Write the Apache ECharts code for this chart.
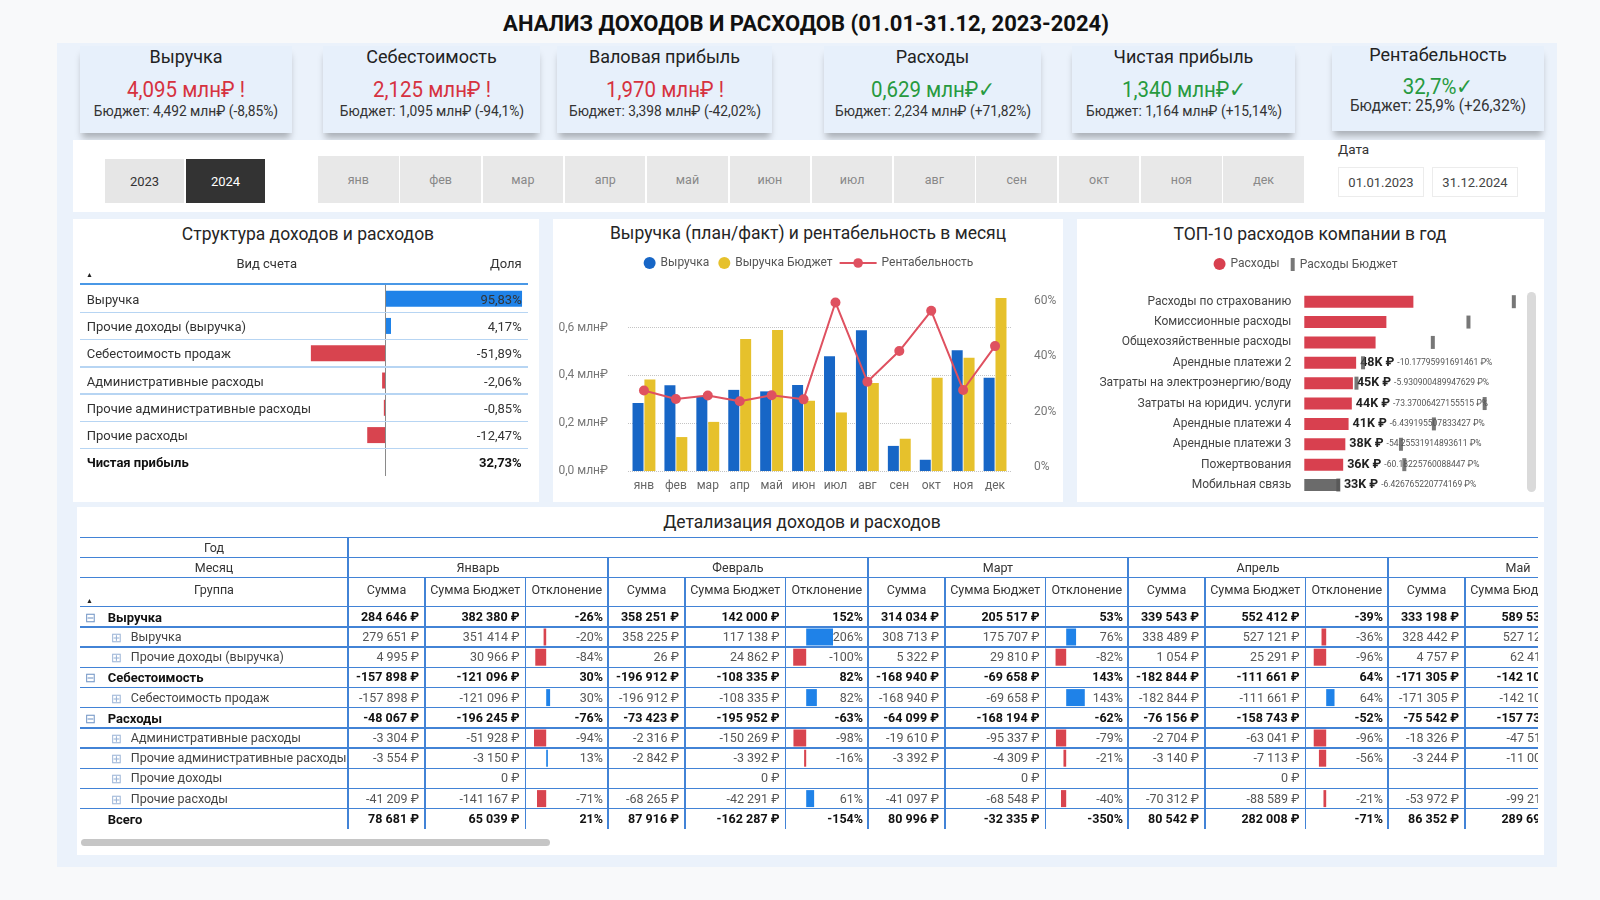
<!DOCTYPE html>
<html>
<head>
<meta charset="utf-8">
<script src="https://cdn.jsdelivr.net/npm/echarts@6/dist/echarts.min.js"></script>
<style>
  html, body { margin: 0; padding: 0; width: 1600px; height: 900px; overflow: hidden; background: #f8f9fa;
    font-family: Roboto, "Noto Sans", sans-serif; color: #333; }
  #bg, #fg, #chart { position: absolute; left: 0; top: 0; width: 1600px; height: 900px; }
  #bg { z-index: 1; }
  #chart { z-index: 2; }
  #fg { z-index: 3; pointer-events: none; }
  .box { position: absolute; box-sizing: border-box; }
  .t { position: absolute; white-space: nowrap; line-height: 1; }
</style>
</head>
<body>
<div id="bg"></div>
<div id="chart"></div>
<div id="fg"></div>
<script>
// ---- data ----
var kpiTitles = ["Выручка", "Себестоимость", "Валовая прибыль", "Расходы", "Чистая прибыль", "Рентабельность"];
var kpiValues = ["4,095 млн₽ !", "2,125 млн₽ !", "1,970 млн₽ !", "0,629 млн₽✓", "1,340 млн₽✓", "32,7%✓"];
var kpiBudgets = ["Бюджет: 4,492 млн₽ (-8,85%)", "Бюджет: 1,095 млн₽ (-94,1%)", "Бюджет: 3,398 млн₽ (-42,02%)",
  "Бюджет: 2,234 млн₽ (+71,82%)", "Бюджет: 1,164 млн₽ (+15,14%)", "Бюджет: 25,9% (+26,32%)"];
var kpiGood = [false, false, false, true, true, true];

var years = ["2023", "2024"];
var months = ["янв", "фев", "мар", "апр", "май", "июн", "июл", "авг", "сен", "окт", "ноя", "дек"];
var dates = ["01.01.2023", "31.12.2024"];

var structNames = ["Выручка", "Прочие доходы (выручка)", "Себестоимость продаж", "Административные расходы",
  "Прочие административные расходы", "Прочие расходы", "Чистая прибыль"];
var structShare = [95.83, 4.17, -51.89, -2.06, -0.85, -12.47, 32.73];

var revenue = [0.2846, 0.3583, 0.3140, 0.3395, 0.3332, 0.360, 0.480, 0.589, 0.105, 0.047, 0.505, 0.390];
var revenueBudget = [0.3824, 0.1420, 0.2055, 0.5524, 0.5895, 0.294, 0.245, 0.368, 0.135, 0.390, 0.474, 0.724];
var margin = [27.6, 24.5, 25.8, 23.7, 25.9, 24.4, 59.5, 30.8, 41.9, 56.5, 27.8, 43.7];

var topNames = ["Расходы по страхованию", "Комиссионные расходы", "Общехозяйственные расходы", "Арендные платежи 2",
  "Затраты на электроэнергию/воду", "Затраты на юридич. услуги", "Арендные платежи 4", "Арендные платежи 3",
  "Пожертвования", "Мобильная связь"];
var topActual = [101, 76, 66, 48, 45, 44, 41, 38, 36, 33];          // тыс. ₽
var topBudget = [194, 152, 119, 54.4, 48.3, 167, 120, 89.5, 92.6, 31.5];
var topPct = ["", "", "", "-10.17795991691461", "-5.930900489947629", "-73.37006427155515", "-6.439195507833427",
  "-54.25531914893611", "-60.18225760088447", "-6.426765220774169"];

var rowNames = ["Выручка", "Выручка", "Прочие доходы (выручка)", "Себестоимость", "Себестоимость продаж", "Расходы",
  "Административные расходы", "Прочие административные расходы", "Прочие доходы", "Прочие расходы", "Всего"];
var rowKinds = ["g", "s", "s", "g", "s", "g", "s", "s", "s", "s", "t"];
var monthNames = ["Январь", "Февраль", "Март", "Апрель", "Май"];
var sumJan = [284646, 279651, 4995, -157898, -157898, -48067, -3304, -3554, null, -41209, 78681];
var budJan = [382380, 351414, 30966, -121096, -121096, -196245, -51928, -3150, 0, -141167, 65039];
var devJan = [-26, -20, -84, 30, 30, -76, -94, 13, null, -71, 21];
var sumFeb = [358251, 358225, 26, -196912, -196912, -73423, -2316, -2842, null, -68265, 87916];
var budFeb = [142000, 117138, 24862, -108335, -108335, -195952, -150269, -3392, 0, -42291, -162287];
var devFeb = [152, 206, -100, 82, 82, -63, -98, -16, null, 61, -154];
var sumMar = [314034, 308713, 5322, -168940, -168940, -64099, -19610, -3392, null, -41097, 80996];
var budMar = [205517, 175707, 29810, -69658, -69658, -168194, -95337, -4309, 0, -68548, -32335];
var devMar = [53, 76, -82, 143, 143, -62, -79, -21, null, -40, -350];
var sumApr = [339543, 338489, 1054, -182844, -182844, -76156, -2704, -3140, null, -70312, 80542];
var budApr = [552412, 527121, 25291, -111661, -111661, -158743, -63041, -7113, 0, -88589, 282008];
var devApr = [-39, -36, -96, 64, 64, -52, -96, -56, null, -21, -71];
var sumMay = [333198, 328442, 4757, -171305, -171305, -75542, -18326, -3244, null, -53972, 86352];
var budMay = [589537, 527125, 62412, -142108, -142108, -157736, -47512, -11007, 0, -99217, 289693];
var devMay = [-43, -38, -92, 21, 21, -52, -61, -71, null, -46, -70];

var BLUE = "#1f82e8", RED = "#d8444f";

// ---- helpers ----
var bg = document.getElementById("bg"), fg = document.getElementById("fg");
function box(p, x, y, w, h, css) {
  var d = document.createElement("div");
  d.className = "box";
  d.style.left = x + "px"; d.style.top = y + "px"; d.style.width = w + "px"; d.style.height = h + "px";
  Object.assign(d.style, css || {});
  p.appendChild(d);
  return d;
}
function txt(p, x, y, s, align, css, sx) {
  var d = document.createElement("div");
  d.className = "t";
  d.textContent = s;
  var tx = align === "c" ? "-50%" : (align === "r" ? "-100%" : "0");
  d.style.left = x + "px"; d.style.top = y + "px";
  d.style.transformOrigin = align === "c" ? "center" : (align === "r" ? "right" : "left");
  d.style.transform = "translate(" + tx + ",-50%)" + (sx ? " scaleX(" + sx + ")" : "");
  Object.assign(d.style, css || {});
  p.appendChild(d);
  return d;
}
function money(v) {
  if (v === null) return "";
  var s = String(Math.abs(v)).replace(/\B(?=(\d{3})+(?!\d))/g, " ");
  return (v < 0 ? "-" : "") + s + " ₽";
}
var font = 'Roboto, "Noto Sans", sans-serif';
var mctx = document.createElement("canvas").getContext("2d");
function tw(s, size) { mctx.font = size + "px " + font; return mctx.measureText(s).width; }

// ---- static layout ----
txt(bg, 806, 24, "АНАЛИЗ ДОХОДОВ И РАСХОДОВ (01.01-31.12, 2023-2024)", "c",
  { fontSize: "22px", fontWeight: "bold", color: "#111" });
box(bg, 57, 43, 1500, 824, { background: "#ebf2fb" });

var cardX = [[80, 292], [323, 540], [557, 772], [824, 1041], [1072, 1295], [1332, 1544]];
cardX.forEach(function (c, i) {
  box(bg, c[0], 46, c[1] - c[0], i === 5 ? 85 : 87, { background: "#e7f0fb", boxShadow: "0 7px 7px -2px rgba(0,0,0,0.28)" });
  var cx = (c[0] + c[1]) / 2, last = i === 5;
  txt(bg, cx, last ? 55 : 57, kpiTitles[i], "c", { fontSize: "18px", color: "#222" });
  txt(bg, cx, last ? 87 : 90, kpiValues[i], "c", { fontSize: "22px", color: kpiGood[i] ? "#279a3f" : "#d6323f" }, 0.93);
  txt(bg, cx, last ? 106 : 112, kpiBudgets[i], "c", { fontSize: last ? "16px" : "14.5px", color: "#333" }, 0.95);
});

// slicers strip
box(bg, 73, 140, 1472, 72, { background: "#ffffff" });
years.forEach(function (y, i) {
  var x = i === 0 ? 105 : 186;
  box(bg, x, 159, 79, 44, { background: i === 1 ? "#333333" : "#e6e6e6" });
  txt(bg, x + 39.5, 181, y, "c", { fontSize: "13px", color: i === 1 ? "#fff" : "#333" });
});
months.forEach(function (m, i) {
  var x = 318 + i * 82.3;
  box(bg, x, 156, 80.6, 47, { background: "#e8e8e8" });
  txt(bg, x + 40.3, 180, m, "c", { fontSize: "12.5px", color: "#888" });
});
txt(bg, 1338, 150, "Дата", "l", { fontSize: "13.5px", color: "#333" });
dates.forEach(function (d, i) {
  var x = i === 0 ? 1338 : 1432;
  box(bg, x, 167, 86, 30, { background: "#fff", border: "1px solid #ececec" });
  txt(bg, x + 43, 182, d, "c", { fontSize: "13px", color: "#444" });
});

// panels
box(bg, 73, 219, 466, 283, { background: "#fff" });
box(bg, 553, 219, 510, 283, { background: "#fff" });
box(bg, 1077, 219, 467, 283, { background: "#fff" });
box(bg, 77, 507, 1467, 348, { background: "#fff" });

var titleCss = { fontSize: "17.5px", color: "#252525" };
txt(bg, 308, 235, "Структура доходов и расходов", "c", titleCss);
txt(bg, 808, 234, "Выручка (план/факт) и рентабельность в месяц", "c", titleCss);
txt(bg, 1310, 235, "ТОП-10 расходов компании в год", "c", titleCss);
txt(bg, 802, 523, "Детализация доходов и расходов", "c", titleCss);

// structure table text
var sTop = 285, sRow = 27.29;
txt(fg, 266.7, 263.3, "Вид счета", "c", { fontSize: "13px", color: "#333" });
txt(fg, 521.7, 263.3, "Доля", "r", { fontSize: "13px", color: "#333" });
txt(fg, 86, 275, "▲", "l", { fontSize: "7px", color: "#222" });
box(fg, 80, 283, 448, 2, { background: "#4a98e6" });
structNames.forEach(function (n, i) {
  var cy = sTop + sRow * (i + 0.5);
  var bold = i === structNames.length - 1;
  var css = { fontSize: "13px", color: bold ? "#111" : "#333", fontWeight: bold ? "bold" : "normal" };
  txt(fg, 86.7, cy, n, "l", css);
  txt(fg, 521.7, cy, structShare[i].toFixed(2).replace(".", ",") + "%", "r", css);
  if (i < structNames.length - 1) box(fg, 80, sTop + sRow * (i + 1) - 0.75, 448, 1.5, { background: "#b7d5f3" });
});

// detail table
var clip = box(fg, 0, 0, 1538, 900, { overflow: "hidden" });
var tLeft = 80, gRight = 348, colW = [77, 100.5, 82.5];
var hY = [537.3, 557.3, 577.3, 606.7], rowH = 20.2, tBottom = 829;
var LINE = "#4283d6";
var monthSums = [sumJan, sumFeb, sumMar, sumApr, sumMay];
var monthBuds = [budJan, budFeb, budMar, budApr, budMay];
var monthDevs = [devJan, devFeb, devMar, devApr, devMay];
var devLefts = [];
hY.forEach(function (y) { box(clip, tLeft, y - 0.75, 1538 - tLeft, 1.5, { background: LINE }); });
for (var r = 1; r < rowNames.length; r++) box(clip, tLeft, hY[3] + r * rowH - 0.75, 1538 - tLeft, 1.5, { background: LINE });
box(clip, gRight - 0.75, hY[0], 1.5, tBottom - hY[0], { background: LINE });
var hdr = { fontSize: "12.5px", color: "#333" };
txt(clip, 214, 547.5, "Год", "c", hdr);
txt(clip, 214, 567.5, "Месяц", "c", hdr);
txt(clip, 214, 589.5, "Группа", "c", hdr);
txt(clip, 86, 601, "▲", "l", { fontSize: "7px", color: "#222" });
monthNames.forEach(function (mn, m) {
  var x0 = gRight + m * 260;
  txt(clip, x0 + 130, 567.5, mn, "c", hdr);
  box(clip, x0 + 260 - 0.75, hY[1], 1.5, tBottom - hY[1], { background: LINE });
  var heads = ["Сумма", "Сумма Бюджет", "Отклонение"];
  var cx = x0;
  heads.forEach(function (h, k) {
    txt(clip, cx + colW[k] / 2, 590, h, "c", hdr);
    if (k < 2) box(clip, cx + colW[k] - 0.75, hY[2], 1.5, tBottom - hY[2], { background: LINE });
    cx += colW[k];
  });
  devLefts.push(x0 + colW[0] + colW[1]);
  rowNames.forEach(function (n, i) {
    var cy = hY[3] + rowH * (i + 0.5);
    var strong = rowKinds[i] !== "s";
    var css = { fontSize: "12.5px", color: strong ? "#111" : "#555", fontWeight: strong ? "bold" : "normal" };
    txt(clip, x0 + colW[0] - 6, cy, money(monthSums[m][i]), "r", css);
    txt(clip, x0 + colW[0] + colW[1] - 6, cy, money(monthBuds[m][i]), "r", css);
    var d = monthDevs[m][i];
    if (d !== null) txt(clip, x0 + 260 - 5, cy, d + "%", "r", css);
  });
});
rowNames.forEach(function (n, i) {
  var cy = hY[3] + rowH * (i + 0.5), k = rowKinds[i];
  if (k === "g") {
    txt(clip, 90, cy, "⊟", "c", { fontSize: "13px", color: "#6f93c4" });
    txt(clip, 107.7, cy, n, "l", { fontSize: "13px", fontWeight: "bold", color: "#111" });
  } else if (k === "s") {
    txt(clip, 116, cy, "⊞", "c", { fontSize: "13px", color: "#9bb4d6" });
    txt(clip, 130.8, cy, n, "l", { fontSize: "12.5px", color: "#444" });
  } else {
    txt(clip, 107.7, cy, n, "l", { fontSize: "13px", fontWeight: "bold", color: "#111" });
  }
});
box(fg, 81, 838.5, 469, 7, { background: "#c6c6c6", borderRadius: "4px" });
box(fg, 1527, 292, 9, 200, { background: "#dadada", borderRadius: "5px" });

// ---- chart ----
var chart = echarts.init(document.getElementById("chart"), null, { renderer: "canvas" });
var grids = [
  { left: 82, top: sTop, width: 446, height: sRow * 7 },
  { left: 628, top: 288, width: 383, height: 183 },
  { left: 628, top: 288, width: 383, height: 178.7 },
  { left: 1304.3, top: 291.5, width: 216, height: 203.7 }
];
var xAxes = [
  { gridIndex: 0, type: "value", min: -212, max: 100, show: false },
  { gridIndex: 1, type: "category", data: months, axisLine: { show: false }, axisTick: { show: false },
    axisLabel: { color: "#666", fontSize: 12, margin: 9 } },
  { gridIndex: 2, type: "category", data: months, show: false },
  { gridIndex: 3, type: "value", min: 0, max: 200, show: false }
];
var yAxes = [
  { gridIndex: 0, type: "category", data: structNames, inverse: true, show: false },
  { gridIndex: 1, type: "value", min: 0, max: 0.7657, interval: 0.2,
    axisLabel: { color: "#777", fontSize: 12, margin: 20, showMaxLabel: false,
      formatter: function (v) { return v.toFixed(1).replace(".", ",") + " млн₽"; } },
    splitLine: { showMaxLine: false, lineStyle: { type: "dotted", color: "#c4c4c4" } } },
  { gridIndex: 2, type: "value", position: "right", min: 0, max: 64.75, interval: 20,
    axisLabel: { color: "#777", fontSize: 12, margin: 23, showMaxLabel: false, formatter: "{value}%" },
    splitLine: { show: false } },
  { gridIndex: 3, type: "category", data: topNames, inverse: true, axisLine: { show: false }, axisTick: { show: false },
    axisLabel: { color: "#444", fontSize: 12, margin: 13 } }
];
var series = [
  { name: "struct", type: "bar", xAxisIndex: 0, yAxisIndex: 0, barWidth: 16,
    data: structShare.map(function (v, i) {
      return i === structShare.length - 1 ? null : { value: v, itemStyle: { color: v >= 0 ? BLUE : RED } };
    }),
    markLine: { silent: true, symbol: "none", label: { show: false }, lineStyle: { color: "#8a8a8a", width: 1, type: "solid" },
      data: [{ xAxis: 0 }] } },
  { name: "Выручка", type: "bar", xAxisIndex: 1, yAxisIndex: 1, barWidth: 11, barGap: "8%",
    itemStyle: { color: "#1766c6" }, data: revenue },
  { name: "Выручка Бюджет", type: "bar", xAxisIndex: 1, yAxisIndex: 1, barWidth: 11,
    itemStyle: { color: "#e6c12c" }, data: revenueBudget },
  { name: "Рентабельность", type: "line", xAxisIndex: 2, yAxisIndex: 2, symbol: "circle", symbolSize: 10,
    lineStyle: { color: "#df5160", width: 2 }, itemStyle: { color: "#df5160" }, data: margin, z: 5 },
  { name: "Расходы", type: "bar", xAxisIndex: 3, yAxisIndex: 3, barWidth: 12, itemStyle: { color: "#d8404f" },
    data: topActual.map(function (v, i) {
      var item = { value: v, itemStyle: { color: i === topActual.length - 1 ? "#6b6b6b" : "#d8404f" } };
      if (topPct[i]) {
        item.label = { show: true, position: "right", distance: 4,
          formatter: "{v|" + v + "K ₽} {p|" + topPct[i] + " ₽%}",
          rich: { v: { fontSize: 12.5, fontWeight: "bold", color: "#222", fontFamily: font },
                  p: { fontSize: 8.5, color: "#555", fontFamily: font } } };
      }
      return item;
    }) },
  { name: "Расходы Бюджет", type: "scatter", xAxisIndex: 3, yAxisIndex: 3, symbol: "rect", symbolSize: [4, 13],
    itemStyle: { color: "#555" }, z: 6,
    data: topBudget.map(function (v, i) { return [v, topNames[i]]; }) }
];
// deviation data bars inside the detail table
for (var m = 0; m < 4; m++) {
  grids.push({ left: devLefts[m] + 7.7, top: hY[3], width: 70, height: rowH * rowNames.length });
  xAxes.push({ gridIndex: 4 + m, type: "value", min: -100, max: 438.5, show: false });
  yAxes.push({ gridIndex: 4 + m, type: "category", data: rowNames.map(function (n, i) { return i; }), inverse: true, show: false });
  series.push({ name: "dev" + m, type: "bar", xAxisIndex: 4 + m, yAxisIndex: 4 + m, barWidth: 17,
    data: monthDevs[m].map(function (v, i) {
      if (rowKinds[i] !== "s" || v === null) return null;
      return { value: v, itemStyle: { color: v < 0 ? RED : BLUE } };
    }) });
}

// legend placement: chain the items and centre the group like the reference
var L0 = 12 + 5 + tw("Выручка", 12) + 9 + 12 + 5 + tw("Выручка Бюджет", 12);
var L1 = 37 + 5 + tw("Рентабельность", 12);
var leg0 = 808 - (L0 + 6 + L1) / 2;
var L2 = 12 + 5 + tw("Расходы", 12);
var L3 = 4 + 5 + tw("Расходы Бюджет", 12);
var leg2 = 1305.5 - (L2 + 11 + L3) / 2;

chart.setOption({
  animation: false,
  textStyle: { fontFamily: font },
  grid: grids,
  xAxis: xAxes,
  yAxis: yAxes,
  legend: [
    { data: ["Выручка", "Выручка Бюджет"], icon: "circle", itemWidth: 12, itemHeight: 12, itemGap: 9, padding: 0,
      left: leg0, top: 257, textStyle: { color: "#555", fontSize: 12 } },
    { data: ["Рентабельность"], itemWidth: 37, itemHeight: 12, padding: 0, left: leg0 + L0 + 6, top: 257,
      textStyle: { color: "#555", fontSize: 12 } },
    { data: ["Расходы"], icon: "circle", itemWidth: 12, itemHeight: 12, padding: 0, left: leg2, top: 258,
      textStyle: { color: "#555", fontSize: 12 } },
    { data: ["Расходы Бюджет"], icon: "rect", itemWidth: 4, itemHeight: 13, padding: 0, left: leg2 + L2 + 11, top: 258,
      textStyle: { color: "#555", fontSize: 12 } }
  ],
  series: series
});
</script>
</body>
</html>
